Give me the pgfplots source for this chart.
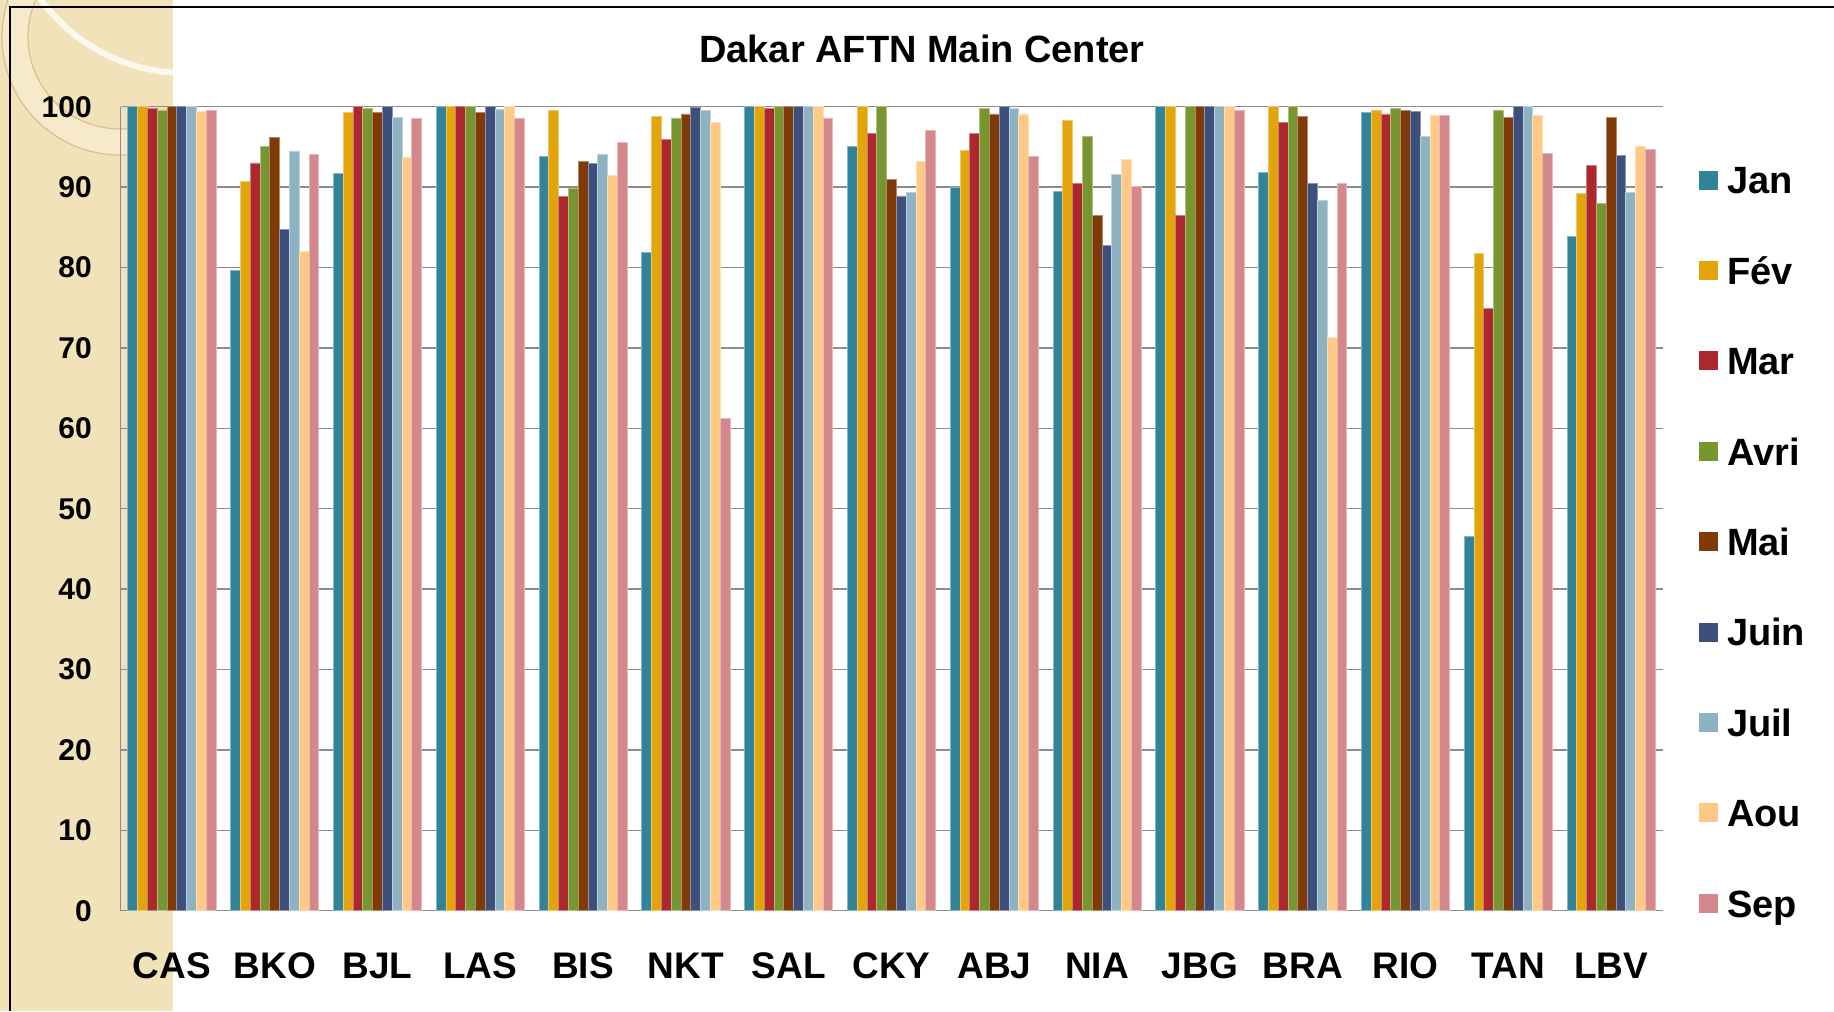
\documentclass[border=0pt]{standalone}
\usepackage{fontspec}
\setmainfont{Liberation Sans}
\usepackage{pgfplots}
\usepackage{pgfplotstable}
\pgfplotsset{compat=1.18}

\definecolor{cJan}{HTML}{31839A}
\definecolor{cFev}{HTML}{E1A40A}
\definecolor{cMar}{HTML}{AD282C}
\definecolor{cAvr}{HTML}{77962F}
\definecolor{cMai}{HTML}{803A07}
\definecolor{cJuin}{HTML}{3E4F7B}
\definecolor{cJuil}{HTML}{8DB3C3}
\definecolor{cAou}{HTML}{FEC986}
\definecolor{cSep}{HTML}{D4888B}
\definecolor{band}{HTML}{F2E2BA}
\definecolor{ring}{HTML}{F7EACB}
\definecolor{tanline}{HTML}{D6C08E}
\definecolor{gridgray}{HTML}{8C8C8C}

\pgfplotstableread{
x Jan Fev Mar Avr Mai Juin Juil Aou Sep
0 100 100 99.8 99.6 100 100 100 99.4 99.5
1 79.6 90.7 93.0 95.1 96.2 84.7 94.5 82.0 94.1
2 91.7 99.3 100 99.75 99.3 100 98.7 93.7 98.5
3 100 100 100 100 99.3 100 99.7 100 98.6
4 93.8 99.6 88.8 89.8 93.2 92.9 94.1 91.5 95.5
5 81.9 98.8 95.9 98.6 99.1 99.9 99.5 98.0 61.2
6 100 100 99.75 100 100 100 100 100 98.6
7 95.1 100 96.7 100 91.0 88.9 89.3 93.2 97.1
8 90.0 94.6 96.7 99.75 99.1 100 99.75 99.1 93.8
9 89.5 98.3 90.4 96.3 86.5 82.7 91.6 93.4 90.1
10 100 100 86.5 100 100 100 100 100 99.6
11 91.8 100 98.0 100 98.8 90.5 88.3 71.3 90.4
12 99.3 99.6 99.1 99.75 99.5 99.4 96.3 98.9 98.9
13 46.6 81.8 74.9 99.6 98.7 100 100 98.9 94.2
14 83.9 89.2 92.7 88.0 98.7 93.9 89.3 95.1 94.7
}\data

\begin{document}
\begin{tikzpicture}
\useasboundingbox (0pt,0pt) rectangle (917pt,505.5pt);
\fill[white] (0pt,0pt) rectangle (917pt,505.5pt);
\fill[band] (0pt,0pt) rectangle (86.5pt,505.5pt);
\begin{scope}
\clip (0pt,0pt) rectangle (86.5pt,505.5pt);
\fill[ring, even odd rule] (60pt,487pt) circle (59pt) (60pt,487pt) circle (46pt);
\draw[tanline, line width=0.6pt] (60pt,487pt) circle (46pt);
\draw[tanline, line width=0.6pt] (60pt,487pt) circle (59pt);
\draw[white!75!band, line width=3pt] (92.5pt,558pt) circle (89pt);
\end{scope}
\draw[black, line width=1pt] (5pt,0pt) -- (5pt,502pt) -- (917pt,502pt);

\node[font=\fontsize{19}{19}\selectfont\bfseries, inner sep=0pt] at (461pt,481.15pt) {Dakar AFTN Main Center};

\begin{axis}[
  at={(60.25pt,50.15pt)}, anchor=south west,
  scale only axis, width=771pt, height=402pt,
  xmin=-0.5, xmax=14.5, ymin=0, ymax=100,
  ybar=0pt, bar width=4.9pt,
  xtick={0,...,14},
  xticklabels={CAS,BKO,BJL,LAS,BIS,NKT,SAL,CKY,ABJ,NIA,JBG,BRA,RIO,TAN,LBV},
  ytick={0,10,...,100},
  ymajorgrids, grid style={draw=gridgray, line width=0.7pt},
  axis lines*=left, axis line style={draw=gridgray, line width=0.7pt},
  major tick length=0pt, tick style={draw=none},
  /pgf/number format/assume math mode=true,
  yticklabel style={font=\fontsize{15}{15}\selectfont\bfseries, inner sep=0pt, anchor=east, xshift=-14.2pt},
  xticklabel style={font=\fontsize{18.5}{18.5}\selectfont\bfseries, inner sep=0pt, anchor=base, yshift=-33.8pt},
  legend cell align=left,
  legend style={at={(rel axis cs:1.0237,0.9650)}, anchor=north west, draw=none, fill=none,
    inner sep=0pt, outer sep=0pt, row sep=0pt, column sep=4.5pt,
    font=\fontsize{19}{19}\selectfont\bfseries,
    nodes={inner sep=0pt, text height=29.5pt, text depth=15.7pt}},
  legend image code/.code={\fill[#1,draw=none] (0pt,-4.75pt) rectangle (9.5pt,4.75pt);},
]
\addplot[fill=cJan, draw=cJan!60!white, line width=0.4pt] table[x=x,y=Jan]{\data};
\addplot[fill=cFev, draw=cFev!60!white, line width=0.4pt] table[x=x,y=Fev]{\data};
\addplot[fill=cMar, draw=cMar!60!white, line width=0.4pt] table[x=x,y=Mar]{\data};
\addplot[fill=cAvr, draw=cAvr!60!white, line width=0.4pt] table[x=x,y=Avr]{\data};
\addplot[fill=cMai, draw=cMai!60!white, line width=0.4pt] table[x=x,y=Mai]{\data};
\addplot[fill=cJuin, draw=cJuin!60!white, line width=0.4pt] table[x=x,y=Juin]{\data};
\addplot[fill=cJuil, draw=cJuil!60!white, line width=0.4pt] table[x=x,y=Juil]{\data};
\addplot[fill=cAou, draw=cAou!60!white, line width=0.4pt] table[x=x,y=Aou]{\data};
\addplot[fill=cSep, draw=cSep!60!white, line width=0.4pt] table[x=x,y=Sep]{\data};
\legend{Jan,Fév,Mar,Avri,Mai,Juin,Juil,Aou,Sep}
\end{axis}
\end{tikzpicture}
\end{document}
